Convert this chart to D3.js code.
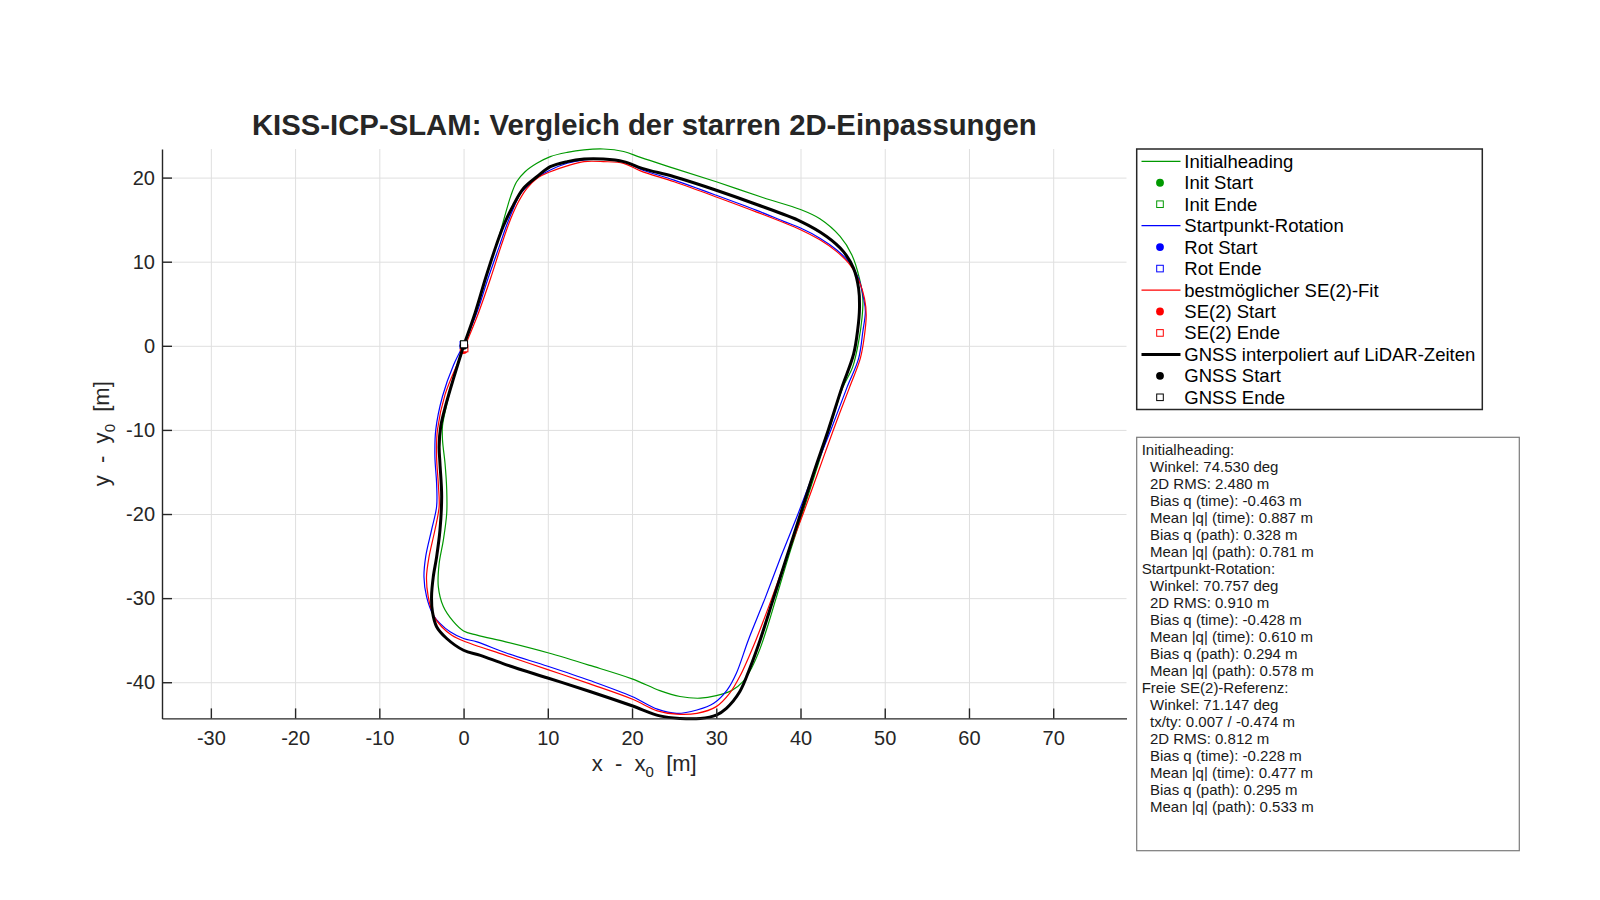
<!DOCTYPE html>
<html>
<head>
<meta charset="utf-8">
<script src="https://cdn.jsdelivr.net/npm/d3@7"></script>
<style>
  body { margin: 0; background: #fff; }
  text { font-family: "Liberation Sans", Arial, sans-serif; }
</style>
</head>
<body>
<div id="chart"></div>
<script>
// trajectories [x - x0, y - y0] in metres
const initPath = [[0,0],[1.4,4.0],[2.6,8.0],[3.9,12.0],[4.5,14.0],[5.0,15.8],[5.6,17.8],[6.3,19.5],[7.3,20.7],[8.7,21.7],[10.3,22.5],[12.3,23.0],[14.3,23.3],[16.6,23.4],[19.0,23.1],[21.0,22.4],[25.0,21.1],[30.0,19.5],[35.6,17.6],[40.0,16.2],[42.3,15.1],[44.7,13.0],[46.1,10.8],[47.0,8.0],[47.4,5.6],[47.3,3.3],[46.9,0.5],[46.2,-2.5],[45.0,-5.0],[43.4,-10.0],[41.8,-15.0],[40.2,-20.0],[38.6,-25.0],[37.1,-30.0],[36.2,-33.0],[35.2,-36.0],[34.2,-38.3],[33.2,-39.9],[31.8,-41.0],[30.0,-41.6],[28.1,-41.9],[25.7,-41.7],[23.3,-41.0],[20.0,-39.6],[15.0,-38.0],[10.0,-36.5],[5.0,-35.2],[1.6,-34.4],[0.0,-33.9],[-1.2,-32.8],[-2.4,-31.0],[-3.0,-28.6],[-2.9,-25.9],[-2.4,-23.1],[-2.0,-19.9],[-2.0,-17.1],[-2.2,-14.0],[-2.5,-11.2],[-2.5,-9.5],[-2.0,-7.0],[-1.2,-3.8],[0.05,0.15]];

const rotPath = [[0,0],[1.6,4.0],[2.9,8.0],[4.3,12.0],[5.1,14.3],[5.9,16.3],[6.7,18.0],[7.7,19.1],[8.9,20.1],[10.3,20.9],[12.3,21.7],[14.3,22.1],[16.6,22.2],[19.0,21.9],[21.0,21.0],[25.0,19.7],[30.0,17.9],[34.8,16.1],[38.0,14.8],[40.0,14.0],[42.3,12.8],[44.3,11.4],[45.9,9.8],[46.9,8.0],[47.5,5.6],[47.7,4.1],[47.4,1.7],[46.9,-1.5],[45.5,-5.0],[43.6,-10.0],[41.6,-15.0],[39.7,-20.0],[37.7,-25.0],[35.8,-30.0],[33.8,-35.0],[32.4,-38.9],[31.3,-40.9],[29.7,-42.5],[27.7,-43.3],[25.3,-43.7],[23.0,-43.2],[20.0,-41.7],[15.0,-39.8],[10.0,-38.1],[5.0,-36.5],[1.6,-35.2],[0.0,-34.8],[-1.6,-34.0],[-2.8,-33.0],[-3.6,-32.0],[-4.4,-29.8],[-4.7,-27.5],[-4.5,-25.1],[-3.8,-21.9],[-3.2,-19.1],[-3.2,-16.4],[-3.4,-13.2],[-3.3,-10.0],[-2.5,-6.0],[-1.2,-2.3],[0.0,0.1]];

const se2Path = [[0.0,-0.5],[0.4,0.5],[1.8,4.0],[3.2,8.0],[4.5,12.0],[5.6,15.1],[6.5,17.1],[7.5,18.7],[8.7,19.9],[10.3,20.7],[12.3,21.4],[14.3,21.9],[16.6,21.9],[19.0,21.7],[21.0,20.8],[25.0,19.5],[30.0,17.7],[34.8,15.9],[40.0,13.8],[42.3,12.6],[44.3,11.2],[45.9,9.6],[47.0,7.6],[47.6,5.6],[47.8,3.7],[47.6,1.3],[47.1,-1.5],[45.8,-5.0],[43.9,-10.0],[42.1,-15.0],[40.3,-20.0],[38.4,-25.0],[36.6,-30.0],[34.7,-35.0],[32.8,-39.3],[31.6,-41.3],[30.0,-42.9],[27.7,-43.7],[25.3,-43.8],[23.0,-43.4],[20.0,-42.0],[15.0,-40.2],[10.0,-38.5],[5.0,-36.8],[0.0,-35.1],[-1.4,-34.4],[-2.6,-33.4],[-3.5,-32.2],[-4.2,-29.8],[-4.4,-27.5],[-4.1,-25.1],[-3.4,-21.9],[-2.9,-19.1],[-3.0,-16.4],[-3.2,-13.2],[-3.1,-10.0],[-2.2,-5.8],[-0.8,-2.3],[0.1,-0.3]];

const gnssPath = [[0,0],[1.4,4.0],[2.6,8.0],[3.9,12.0],[4.75,14.3],[5.9,16.7],[7.1,18.7],[8.7,20.1],[10.3,21.3],[12.3,21.9],[14.3,22.2],[16.6,22.2],[19.0,21.9],[21.2,21.1],[25.0,20.1],[30.0,18.5],[34.8,16.8],[40.0,14.8],[43.1,13.0],[45.1,11.2],[46.3,9.2],[46.9,6.8],[47.0,4.4],[46.8,2.0],[46.3,-1.0],[44.9,-5.0],[43.3,-10.0],[41.6,-15.0],[40.0,-20.0],[38.4,-25.0],[36.8,-30.0],[35.2,-35.0],[34.0,-38.3],[32.8,-41.1],[31.2,-43.1],[30.0,-43.9],[28.1,-44.3],[25.7,-44.3],[23.3,-44.0],[20.0,-42.8],[15.0,-41.1],[10.0,-39.5],[5.0,-37.9],[2.0,-36.8],[0.0,-36.2],[-2.0,-34.8],[-3.2,-33.4],[-3.7,-31.6],[-3.8,-29.8],[-3.6,-27.5],[-3.2,-25.1],[-2.8,-21.9],[-2.6,-17.9],[-2.8,-14.0],[-2.9,-12.0],[-2.7,-9.5],[-2.1,-7.0],[-1.2,-3.9],[0.06,0.18]];

const seriesNames = ["Initialheading", "Startpunkt-Rotation", "bestmöglicher SE(2)-Fit", "GNSS interpoliert auf LiDAR-Zeiten"];
const startNames = ["Init Start", "Rot Start", "SE(2) Start", "GNSS Start"];
const endNames = ["Init Ende", "Rot Ende", "SE(2) Ende", "GNSS Ende"];

const xTicks = [-30, -20, -10, 0, 10, 20, 30, 40, 50, 60, 70];
const yTicks = [-40, -30, -20, -10, 0, 10, 20];

const statsLines = [
  "Initialheading:",
  "  Winkel: 74.530 deg",
  "  2D RMS: 2.480 m",
  "  Bias q (time): -0.463 m",
  "  Mean |q| (time): 0.887 m",
  "  Bias q (path): 0.328 m",
  "  Mean |q| (path): 0.781 m",
  "Startpunkt-Rotation:",
  "  Winkel: 70.757 deg",
  "  2D RMS: 0.910 m",
  "  Bias q (time): -0.428 m",
  "  Mean |q| (time): 0.610 m",
  "  Bias q (path): 0.294 m",
  "  Mean |q| (path): 0.578 m",
  "Freie SE(2)-Referenz:",
  "  Winkel: 71.147 deg",
  "  tx/ty: 0.007 / -0.474 m",
  "  2D RMS: 0.812 m",
  "  Bias q (time): -0.228 m",
  "  Mean |q| (time): 0.477 m",
  "  Bias q (path): 0.295 m",
  "  Mean |q| (path): 0.533 m"
];

const width = 1600, height = 900;
const plot = { left: 162, right: 1126.5, top: 149, bottom: 718.4 };
const axisColor = "#262626";

const series = [
  { path: initPath, color: "#009900", lw: 1.2 },
  { path: rotPath, color: "#0000ff", lw: 1.2 },
  { path: se2Path, color: "#ff0000", lw: 1.2 },
  { path: gnssPath, color: "#000000", lw: 3 }
];

const svg = d3.select("#chart").append("svg")
  .attr("width", width)
  .attr("height", height);

const x = d3.scaleLinear().domain([-35.8, 78.7]).range([plot.left, plot.right]);
const y = d3.scaleLinear().domain([-44.3, 23.4]).range([plot.bottom, plot.top]);

// grid
svg.append("g")
  .attr("transform", `translate(0,${plot.bottom})`)
  .call(d3.axisBottom(x).tickValues(xTicks).tickFormat("").tickSize(-(plot.bottom - plot.top)).tickSizeOuter(0))
  .call(g => g.select(".domain").remove())
  .call(g => g.selectAll("line").attr("stroke", "#dfdfdf").attr("stroke-width", 1));

svg.append("g")
  .attr("transform", `translate(${plot.left},0)`)
  .call(d3.axisLeft(y).tickValues(yTicks).tickFormat("").tickSize(-(plot.right - plot.left)).tickSizeOuter(0))
  .call(g => g.select(".domain").remove())
  .call(g => g.selectAll("line").attr("stroke", "#dfdfdf").attr("stroke-width", 1));

// trajectories and start/end markers
const line = d3.line()
  .x(d => x(d[0]))
  .y(d => y(d[1]))
  .curve(d3.curveCatmullRom.alpha(0.5));

const traj = svg.append("g");
series.forEach(s => {
  traj.append("path")
    .datum(s.path)
    .attr("d", line)
    .attr("fill", "none")
    .attr("stroke", s.color)
    .attr("stroke-width", s.lw)
    .attr("stroke-linejoin", "round");

  const p0 = s.path[0], p1 = s.path[s.path.length - 1];
  traj.append("circle")
    .attr("cx", x(p0[0])).attr("cy", y(p0[1]))
    .attr("r", 3.9)
    .attr("fill", s.color);
  traj.append("rect")
    .attr("x", x(p1[0]) - 3.5).attr("y", y(p1[1]) - 3.5)
    .attr("width", 7).attr("height", 7)
    .attr("fill", "#fff")
    .attr("stroke", s.color)
    .attr("stroke-width", 1);
});

// axes (plain hyphen for negative numbers, as in the original)
const fmt = d => String(d);
const xAxis = svg.append("g")
  .attr("transform", `translate(0,${plot.bottom})`)
  .call(d3.axisBottom(x).tickValues(xTicks).tickFormat(fmt).tickSizeInner(-10).tickSizeOuter(0).tickPadding(12.5));
const yAxis = svg.append("g")
  .attr("transform", `translate(${plot.left},0)`)
  .call(d3.axisLeft(y).tickValues(yTicks).tickFormat(fmt).tickSizeInner(-10).tickSizeOuter(0).tickPadding(7));

[xAxis, yAxis].forEach(g => {
  g.select(".domain").attr("stroke", axisColor).attr("stroke-width", 1.4);
  g.selectAll(".tick line").attr("stroke", axisColor).attr("stroke-width", 1.4);
  g.selectAll(".tick text")
    .attr("fill", axisColor)
    .style("font-size", "20px")
    .style("font-family", "'Liberation Sans', Arial, sans-serif");
});

// title and axis labels
svg.append("text")
  .attr("x", (plot.left + plot.right) / 2)
  .attr("y", 135)
  .attr("text-anchor", "middle")
  .attr("fill", axisColor)
  .style("font-size", "29.3px")
  .style("font-weight", "bold")
  .text("KISS-ICP-SLAM: Vergleich der starren 2D-Einpassungen");

const xLabel = svg.append("text")
  .attr("x", (plot.left + plot.right) / 2)
  .attr("y", 771)
  .attr("text-anchor", "middle")
  .attr("fill", axisColor)
  .style("font-size", "22px")
  .style("white-space", "pre");
xLabel.append("tspan").text("x  -  x");
xLabel.append("tspan").attr("dy", 6).style("font-size", "15px").text("0");
xLabel.append("tspan").attr("dy", -6).text("  [m]");

const yLabel = svg.append("text")
  .attr("transform", `translate(109,${(plot.top + plot.bottom) / 2}) rotate(-90)`)
  .attr("text-anchor", "middle")
  .attr("fill", axisColor)
  .style("font-size", "22px")
  .style("white-space", "pre");
yLabel.append("tspan").text("y  -  y");
yLabel.append("tspan").attr("dy", 6).style("font-size", "15px").text("0");
yLabel.append("tspan").attr("dy", -6).text("  [m]");

// legend
const legend = svg.append("g");
legend.append("rect")
  .attr("x", 1136.7).attr("y", 149)
  .attr("width", 345.6).attr("height", 260.5)
  .attr("fill", "#fff")
  .attr("stroke", axisColor)
  .attr("stroke-width", 1.5);

const legendRows = [];
series.forEach((s, i) => {
  legendRows.push({ kind: "line", label: seriesNames[i], s });
  legendRows.push({ kind: "dot", label: startNames[i], s });
  legendRows.push({ kind: "square", label: endNames[i], s });
});

const rowY = d3.scaleLinear().domain([0, legendRows.length - 1]).range([161.3, 397.3]);
legendRows.forEach((r, i) => {
  const cy = rowY(i);
  if (r.kind === "line") {
    legend.append("line")
      .attr("x1", 1141.5).attr("x2", 1180.5)
      .attr("y1", cy).attr("y2", cy)
      .attr("stroke", r.s.color)
      .attr("stroke-width", r.s.lw);
  } else if (r.kind === "dot") {
    legend.append("circle")
      .attr("cx", 1160).attr("cy", cy).attr("r", 3.9)
      .attr("fill", r.s.color);
  } else {
    legend.append("rect")
      .attr("x", 1160 - 3.3).attr("y", cy - 3.3)
      .attr("width", 6.6).attr("height", 6.6)
      .attr("fill", "#fff")
      .attr("stroke", r.s.color)
      .attr("stroke-width", 1);
  }
  legend.append("text")
    .attr("x", 1184.3).attr("y", cy)
    .attr("dy", "0.35em")
    .attr("fill", "#000")
    .style("font-size", "18.5px")
    .text(r.label);
});

// statistics text box
const box = svg.append("g");
box.append("rect")
  .attr("x", 1136.7).attr("y", 437.3)
  .attr("width", 382.6).attr("height", 413.4)
  .attr("fill", "#fff")
  .attr("stroke", "#7a7a7a")
  .attr("stroke-width", 1.2);

box.selectAll("text.stat")
  .data(statsLines)
  .join("text")
  .attr("class", "stat")
  .attr("x", 1141.7)
  .attr("y", (d, i) => 450 + i * 17)
  .attr("dy", "0.35em")
  .attr("fill", "#1a1a1a")
  .style("font-size", "15px")
  .style("white-space", "pre")
  .text(d => d);
</script>
</body>
</html>
